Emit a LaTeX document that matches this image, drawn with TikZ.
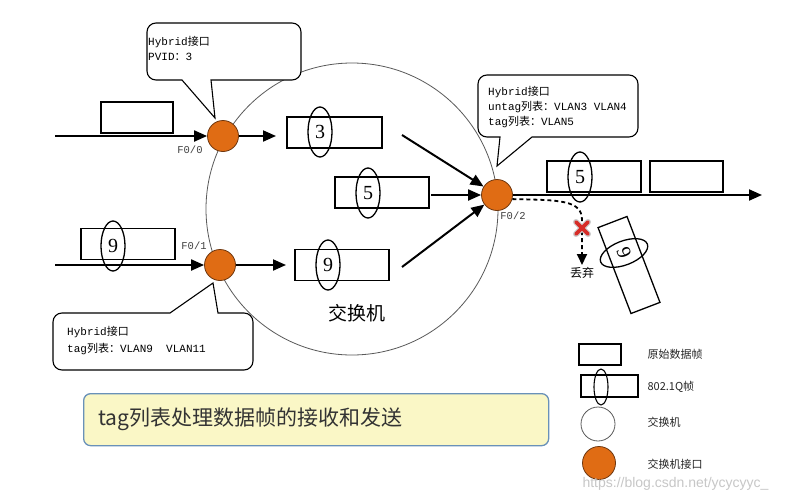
\documentclass[tikz,border=0pt]{standalone}
\usepackage{fontspec}
\setmainfont{Liberation Serif}
\setmonofont{Liberation Mono}
\setsansfont{Liberation Sans}
\newfontfamily\cjk{Noto Sans CJK SC}
\usetikzlibrary{arrows.meta,shapes.geometric}
\definecolor{portfill}{RGB}{224,108,20}
\definecolor{portdraw}{RGB}{110,55,15}
\definecolor{notefill}{RGB}{250,247,198}
\definecolor{notedraw}{RGB}{105,145,185}
\definecolor{ringgray}{RGB}{90,90,90}
\definecolor{xred}{RGB}{215,45,40}
\begin{document}
\begin{tikzpicture}[x=1pt,y=-1pt,
  port/.style={circle,fill=portfill,draw=portdraw,line width=0.8pt,minimum size=31pt,inner sep=0pt},
  dframe/.style={draw,line width=1.3pt,minimum width=#1,minimum height=31pt,inner sep=0pt},
  tagell/.style={ellipse,draw,line width=1.3pt,minimum width=24pt,minimum height=50pt,inner sep=0pt,font=\fontsize{20}{20}\selectfont},
  flow/.style={line width=2pt,-{Triangle[length=13pt,width=11pt]}},
  callout/.style={draw,line width=1.1pt,fill=white},
  calltext/.style={align=left,anchor=north west,inner sep=0pt,font=\ttfamily\fontsize{11}{15}\selectfont},
  plabel/.style={font=\ttfamily\fontsize{10.5}{12}\selectfont,text=black!75},
  legtext/.style={anchor=west,font=\cjk\fontsize{11}{13}\selectfont,text=black!85}]
\useasboundingbox (0,0) rectangle (798,501);
\fill[white] (0,0) rectangle (798,501);

% switch
\node[circle,draw=ringgray,line width=0.8pt,minimum size=292pt,inner sep=0pt] (sw) at (352,209) {};
\node[font=\cjk\fontsize{19}{20}\selectfont] (swlabel) at (357,313) {交换机};

% callouts
\draw[callout] (215,118) -- (182,80) [rounded corners=9pt] -- (147,80) -- (147,23) -- (301,23) -- (301,80) [sharp corners] -- (211,80) -- cycle;
\node[calltext] (c0) at (148,36) {Hybrid{\cjk 接口}\\PVID{\cjk ：}3};

\draw[callout] (497,166) -- (500,137) [rounded corners=9pt] -- (478,137) -- (478,75) -- (638,75) -- (638,137) [sharp corners] -- (532,137) -- cycle;
\node[calltext] (c2) at (488,86) {Hybrid{\cjk 接口}\\untag{\cjk 列表：}VLAN3 VLAN4\\tag{\cjk 列表：}VLAN5};

\draw[callout] (213,283) -- (218,313) [rounded corners=9pt] -- (253,313) -- (253,370) -- (53,370) -- (53,313) [sharp corners] -- (170,313) -- cycle;
\node[calltext,font=\ttfamily\fontsize{11}{17}\selectfont] (c1) at (67,326) {Hybrid{\cjk 接口}\\tag{\cjk 列表：}VLAN9\ \ VLAN11};

% ports
\node[port] (f00) at (223,136) {};
\node[port] (f01) at (220,265) {};
\node[port] (f02) at (497,195) {};
\node[plabel] (l00) at (190,150) {F0/0};
\node[plabel] (l01) at (194,246) {F0/1};
\node[plabel] (l02) at (513,216) {F0/2};

% incoming frames
\node[dframe=72pt] (in0) at (137,117.5) {};
\node[dframe=94pt] (in1) at (128,244) {};
\node[tagell] (in1t) at (113,246) {9};
\coordinate (s0) at (55,136);
\coordinate (s1) at (55,265);
\draw[flow] (s0) -- (f00);
\draw[flow] (s1) -- (f01);

% frames inside switch
\node[dframe=95pt] (fr3) at (334.5,132.5) {};
\node[tagell] (fr3t) at (320,132) {3};
\node[dframe=94pt] (fr5) at (382,192.5) {};
\node[tagell] (fr5t) at (368,193) {5};
\node[dframe=94pt] (fr9) at (342,265) {};
\node[tagell] (fr9t) at (328,265) {9};
\coordinate (a0) at (276,136);
\coordinate (a1) at (286,265);
\draw[flow] (f00) -- (a0);
\draw[flow] (f01) -- (a1);
\coordinate (b0) at (402,135);
\coordinate (b1) at (431,195);
\coordinate (b2) at (402,267);
\draw[flow] (b0) -- (f02);
\draw[flow] (b1) -- (f02);
\draw[flow] (b2) -- (f02);

% outgoing
\coordinate (out) at (762,195);
\draw[flow] (f02) -- (out);
\node[dframe=94pt] (o5) at (594,176.5) {};
\node[tagell] (o5t) at (580,177) {5};
\node[dframe=73pt] (o2) at (686.5,176.5) {};

% discarded frame
\coordinate (drop) at (582,265);
\draw[line width=1.8pt,dash pattern=on 4pt off 3pt,-{Triangle[length=11pt,width=10pt]}]
  (f02.-15) .. controls (560,200) and (582,200) .. (582,220) -- (drop);
\coordinate (xm) at (582,228);
\draw[line width=6pt,black!20,line cap=round] ([shift={(-6,-6)}]xm) -- ([shift={(6,6)}]xm) ([shift={(-6,6)}]xm) -- ([shift={(6,-6)}]xm);
\draw[line width=3.6pt,xred,line cap=round] ([shift={(-6,-6)}]xm) -- ([shift={(6,6)}]xm) ([shift={(-6,6)}]xm) -- ([shift={(6,-6)}]xm);
\node[font=\cjk\fontsize{12}{13}\selectfont] (droplabel) at (582,273) {丢弃};
\node[dframe=92pt,rotate=-69] (rot) at (629,265) {};
\node[tagell,rotate=-69] (rott) at (624,253) {9};

% note
\node[draw=notedraw,fill=notefill,rounded corners=7pt,line width=1.3pt,minimum width=465pt,minimum height=52pt,anchor=north west,inner sep=0pt] (note) at (83,393) {};
\node[anchor=west,font=\cjk\fontsize{21}{22}\selectfont,text=black!80] (notetext) at (95,419) {tag列表处理数据帧的接收和发送};

% legend
\node[dframe=42pt,minimum height=21pt,line width=1.1pt] (lg1) at (600,354.5) {};
\node[dframe=57pt,minimum height=22pt,line width=1.1pt] (lg2) at (609.5,386) {};
\node[ellipse,draw,line width=1.1pt,minimum width=14pt,minimum height=36pt,inner sep=0pt] (lg2e) at (601,387) {};
\node[circle,draw=ringgray,line width=0.8pt,minimum size=34pt,inner sep=0pt] (lg3) at (598,424) {};
\node[port,minimum size=33pt] (lg4) at (599,463) {};
\node[legtext] (lt1) at (644,354) {原始数据帧};
\node[legtext] (lt2) at (644,387) {802.1Q帧};
\node[legtext] (lt3) at (644,422) {交换机};
\node[legtext] (lt4) at (644,464) {交换机接口};

\node[anchor=west,font=\sffamily\fontsize{14}{15}\selectfont,text=black!22] (wm) at (579,484) {https://blog.csdn.net/ycycyyc\_};
\end{tikzpicture}
\end{document}
